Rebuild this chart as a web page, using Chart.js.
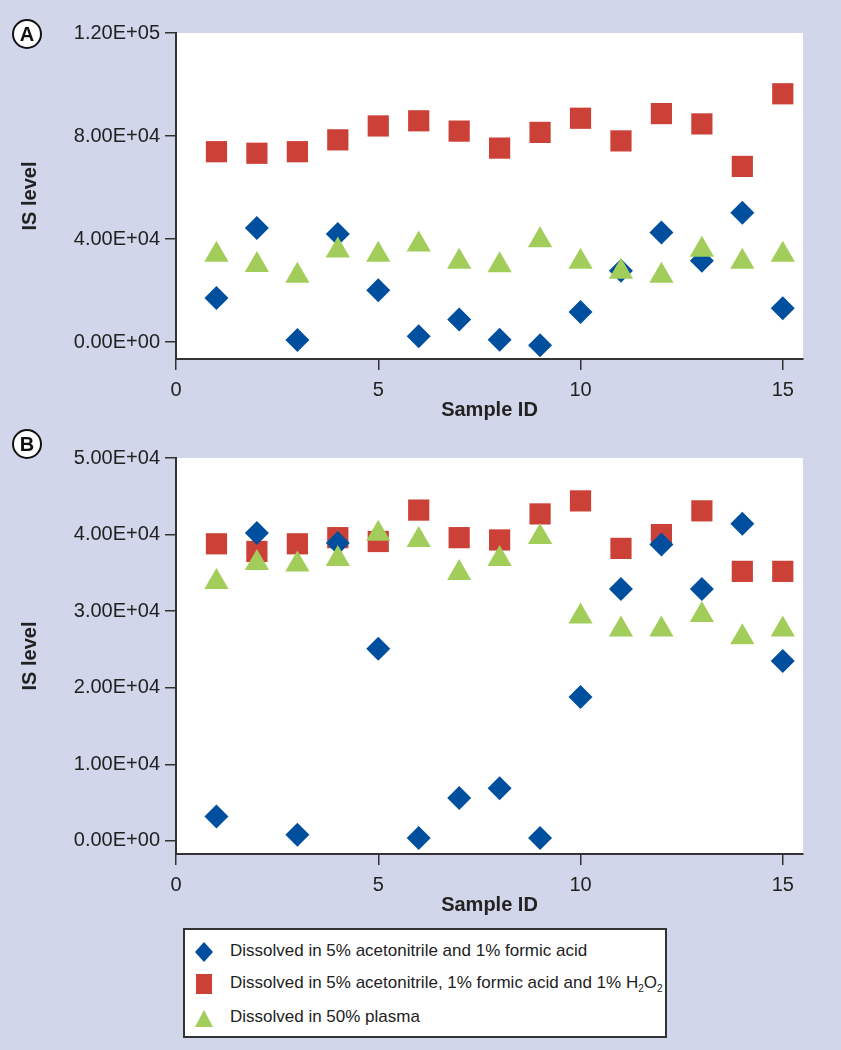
<!DOCTYPE html>
<html>
<head>
<meta charset="utf-8">
<script src="https://cdn.jsdelivr.net/npm/chart.js@4.4.1/dist/chart.umd.min.js"></script>
<style>
  body { margin: 0; background: #d1d6ea; width: 841px; height: 1050px; position: relative; overflow: hidden;
         font-family: "Liberation Sans", Arial, sans-serif; color: #222; }
  canvas { position: absolute; left: 0; }
  #chartA { top: 0; }
  #chartB { top: 430px; }
  .panel { position: absolute; left: 12px; width: 26px; height: 26px; border: 2px solid #111; border-radius: 50%;
           background: #fff; font: bold 20px "Liberation Sans", Arial, sans-serif; color: #111;
           text-align: center; line-height: 26px; }
  #legend { position: absolute; left: 183px; top: 928px; width: 480px; height: 106px; background: #fff;
            border: 2px solid #333; font-size: 17px; color: #222; }
  .row { position: absolute; left: 0; height: 24px; line-height: 24px; white-space: nowrap; }
  .row svg { position: absolute; left: 8px; top: 2px; }
  .row span { position: absolute; left: 45px; }
  sub { font-size: 10px; vertical-align: -4px; line-height: 0; }
</style>
</head>
<body>
<canvas id="chartA" width="841" height="430"></canvas>
<canvas id="chartB" width="841" height="495"></canvas>
<div class="panel" style="top:19px">A</div>
<div class="panel" style="top:429px">B</div>
<div id="legend">
  <div class="row" style="top:9px">
    <svg width="22" height="22"><polygon points="11,1 20,11 11,21 2,11" fill="#004f9f"/></svg>
    <span>Dissolved in 5% acetonitrile and 1% formic acid</span>
  </div>
  <div class="row" style="top:41px">
    <svg width="22" height="22"><rect x="3" y="1" width="16" height="20" fill="#cc4137"/></svg>
    <span>Dissolved in 5% acetonitrile, 1% formic acid and 1% H<sub>2</sub>O<sub>2</sub></span>
  </div>
  <div class="row" style="top:75px">
    <svg width="22" height="22"><polygon points="11,3 20,20 2,20" fill="#a2cd5a"/></svg>
    <span>Dissolved in 50% plasma</span>
  </div>
</div>
<script>
// Sample IDs (x values)
const sampleIds = [1, 2, 3, 4, 5, 6, 7, 8, 9, 10, 11, 12, 13, 14, 15];
const xTicks = [0, 5, 10, 15];

// Panel A - IS level
const blueA  = [17100, 44300, 800, 41900, 20100, 2200, 8700, 900, -1300, 11700, 27700, 42500, 31600, 50200, 13100];
const redA   = [73900, 73300, 73900, 78500, 83900, 85900, 81900, 75300, 81400, 86900, 78100, 88700, 84700, 68200, 96400];
const greenA = [33900, 29900, 25700, 35500, 33900, 37900, 31200, 29800, 39500, 31200, 27300, 25700, 35800, 31200, 33900];
const yTicksA = [0, 40000, 80000, 120000];

// Panel B - IS level
const blueB  = [3200, 40200, 800, 38900, 25100, 400, 5600, 6900, 400, 18800, 32900, 38700, 32900, 41400, 23500];
const redB   = [38800, 37800, 38800, 39600, 39100, 43200, 39600, 39300, 42700, 44400, 38200, 40000, 43100, 35200, 35200];
const greenB = [33800, 36300, 36100, 36800, 40100, 39300, 35000, 36800, 39700, 29300, 27600, 27600, 29500, 26600, 27600];
const yTicksB = [0, 10000, 20000, 30000, 40000, 50000];

Chart.defaults.font.family = '"Liberation Sans", Arial, sans-serif';
Chart.defaults.color = '#222';

function sci(v) {
  if (v === 0) return '0.00E+00';
  const e = Math.floor(Math.log10(Math.abs(v)));
  const m = v / Math.pow(10, e);
  return m.toFixed(2) + 'E' + (e < 0 ? '-' : '+') + String(Math.abs(e)).padStart(2, '0');
}

function points(ys) {
  return sampleIds.map((x, i) => ({ x: x, y: ys[i] }));
}

function makeChart(id, blue, red, green, yMin, yMax, yTicks, padTop) {
  const ctx = document.getElementById(id).getContext('2d');
  return new Chart(ctx, {
    type: 'scatter',
    data: {
      datasets: [
        { label: 'Dissolved in 5% acetonitrile and 1% formic acid', data: points(blue),
          pointStyle: 'rectRot', pointRadius: 12, backgroundColor: '#004f9f', borderWidth: 0, order: 1 },
        { label: 'Dissolved in 5% acetonitrile, 1% formic acid and 1% H2O2', data: points(red),
          pointStyle: 'rect', pointRadius: 15, backgroundColor: '#cc4137', borderWidth: 0, order: 2 },
        { label: 'Dissolved in 50% plasma', data: points(green),
          pointStyle: 'triangle', pointRadius: 14, backgroundColor: '#a2cd5a', borderWidth: 0, order: 0 }
      ]
    },
    options: {
      responsive: false,
      animation: false,
      layout: { padding: { top: padTop, right: 38, left: 0, bottom: 0 } },
      plugins: { legend: { display: false }, tooltip: { enabled: false } },
      scales: {
        x: {
          type: 'linear', min: 0, max: 15.5,
          afterFit: s => { s.height = 71; },
          afterBuildTicks: s => { s.ticks = xTicks.map(v => ({ value: v })); },
          border: { display: true, color: '#333', width: 2 },
          grid: { drawOnChartArea: false, drawTicks: true, tickLength: 11, color: '#333', lineWidth: 1.5 },
          ticks: { font: { size: 20 }, color: '#222', padding: 8, maxRotation: 0 },
          title: { display: true, text: 'Sample ID', font: { size: 20, weight: 'bold' }, color: '#222',
                   padding: { top: 8, bottom: 8 } }
        },
        y: {
          type: 'linear', min: yMin, max: yMax,
          afterFit: s => { s.width = 176; },
          afterBuildTicks: s => { s.ticks = yTicks.map(v => ({ value: v })); },
          border: { display: true, color: '#333', width: 2 },
          grid: { drawOnChartArea: false, drawTicks: true, tickLength: 11, color: '#333', lineWidth: 1.5 },
          ticks: { font: { size: 20 }, color: '#222', padding: 5, callback: v => sci(v) },
          title: { display: true, text: 'IS level', font: { size: 20, weight: 'bold' }, color: '#222',
                   padding: { top: 18, bottom: 18 } }
        }
      }
    },
    plugins: [{
      id: 'whiteArea',
      beforeDraw(chart) {
        const a = chart.chartArea;
        chart.ctx.save();
        chart.ctx.fillStyle = '#fff';
        chart.ctx.fillRect(a.left, a.top, a.right - a.left, a.bottom - a.top);
        chart.ctx.restore();
      }
    }]
  });
}

makeChart('chartA', blueA, redA, greenA, -6600, 120000, yTicksA, 33);
makeChart('chartB', blueB, redB, greenB, -1700, 50000, yTicksB, 28);
</script>
</body>
</html>
